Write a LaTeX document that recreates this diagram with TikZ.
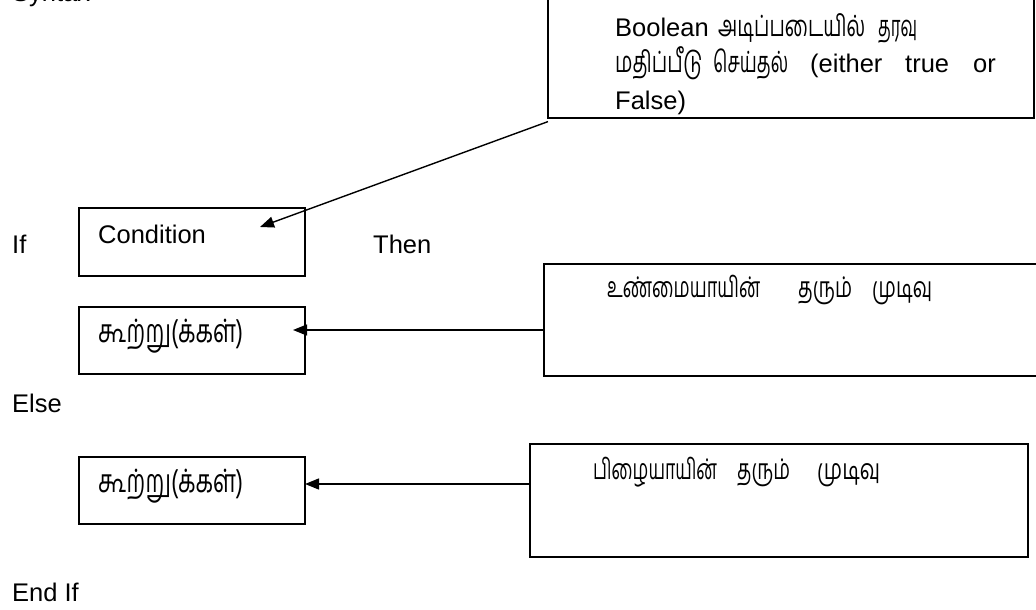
\documentclass[tikz,border=0pt]{standalone}
\usepackage{fontspec}
\usepackage{graphicx}
\setmainfont{Liberation Sans}
\newfontfamily\tamil[Script=Tamil]{Hind Madurai}
\usetikzlibrary{arrows.meta}
% Tamil word set in Hind Madurai, scaled to a given width (#1, in pt)
% at font size #2 and upright stretch #3
\newsavebox\tambox
\newcommand\tamfit[4]{%
  \sbox\tambox{\tamil\fontsize{#2}{#2}\selectfont #4}%
  \pgfmathsetmacro\tamsx{#1/\the\wd\tambox}%
  \scalebox{\tamsx}[#3]{\usebox\tambox}}
\begin{document}
\begin{tikzpicture}[x=1pt,y=-1pt,
  box/.style={draw=black,line width=1.6pt,anchor=north west,inner sep=0pt},
  lbl/.style={anchor=base west,inner sep=0pt,font=\fontsize{25.5}{30}\selectfont},
  tw/.style={anchor=base west,inner sep=0pt},
  arr/.style={line width=1.4pt,-{Triangle[length=14pt,width=11pt]}}]
\useasboundingbox (0,0) rectangle (1036,610);
\fill[white] (0,0) rectangle (1036,610);
\clip (0,0) rectangle (1036,610);

% boxes
\node[box,minimum width=486pt,minimum height=160pt] (bool) at (547,-43) {};
\node[box,minimum width=226pt,minimum height=68pt] (cond) at (78,207) {};
\node[box,minimum width=226pt,minimum height=67pt] (s1) at (78,306) {};
\node[box,minimum width=226pt,minimum height=67pt] (s2) at (78,456) {};
\node[box,minimum width=510pt,minimum height=112pt] (r1) at (543,263) {};
\node[box,minimum width=498pt,minimum height=113pt] (r2) at (529,443) {};

% keywords of the syntax
\node[lbl] (syn) at (12,1.5) {Syntax};
\node[lbl] (if) at (12,253) {If};
\node[lbl] (then) at (373,253) {Then};
\node[lbl] (else) at (12,412) {Else};
\node[lbl] (endif) at (12,601) {End If};

% box texts
\node[lbl] (condt) at (98,243) {Condition};
\node[tw] (s1t) at (98,342) {\tamfit{145}{23}{1.4}{கூற்று(க்கள்)}};
\node[tw] (s2t) at (98,492) {\tamfit{145}{23}{1.4}{கூற்று(க்கள்)}};

\node[lbl] (b1) at (615,37) {Boolean};
\node[tw] (b2) at (718,37) {\tamfit{147}{19.5}{1.5}{அடிப்படையில்}};
\node[tw] (b3) at (878,37) {\tamfit{39}{19.5}{1.5}{தரவு}};
\node[tw] (b4) at (615,73) {\tamfit{87}{19.5}{1.5}{மதிப்பீடு}};
\node[tw] (b5) at (713,73) {\tamfit{75}{19.5}{1.5}{செய்தல்}};
\node[lbl] (b6) at (810,73) {(either};
\node[lbl] (b7) at (905,73) {true};
\node[lbl] (b8) at (973,73) {or};
\node[lbl] (b9) at (615,110) {False)};

\node[tw] (r1a) at (607,297) {\tamfit{153}{19}{1.5}{உண்மையாயின்}};
\node[tw] (r1b) at (798,297) {\tamfit{54}{19}{1.5}{தரும்}};
\node[tw] (r1c) at (872,297) {\tamfit{60}{19}{1.5}{முடிவு}};
\node[tw] (r2a) at (593,479) {\tamfit{124}{19}{1.5}{பிழையாயின்}};
\node[tw] (r2b) at (737,479) {\tamfit{53}{19}{1.5}{தரும்}};
\node[tw] (r2c) at (817,479) {\tamfit{63}{19}{1.5}{முடிவு}};

% connectors
\coordinate (ct) at (260,227);
\coordinate (t1) at (293,330);
\coordinate (t2) at (305,484);
\draw[arr] ([shift={(1pt,-3pt)}]bool.south west) -- (ct);
\draw[arr] (r1.west |- t1) -- (t1);
\draw[arr] (r2.west |- t2) -- (t2);
\end{tikzpicture}
\end{document}
